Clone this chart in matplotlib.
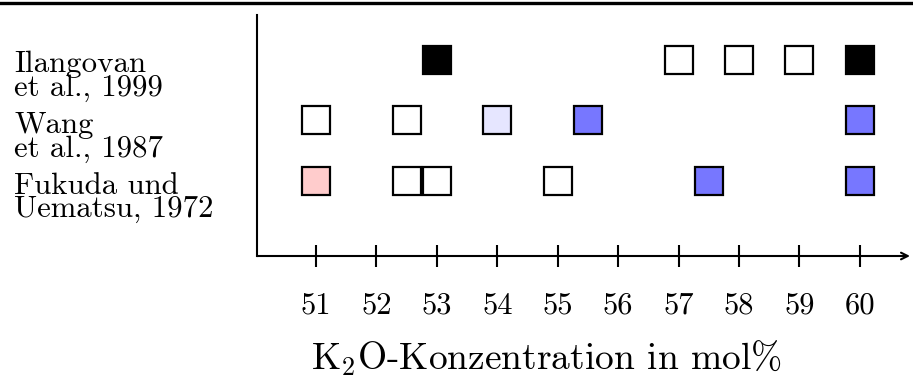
import matplotlib
matplotlib.use("Agg")
import matplotlib.pyplot as plt
from matplotlib.lines import Line2D
from matplotlib.transforms import blended_transform_factory

plt.rcParams['font.family'] = ['cmr10', 'DejaVu Serif']
plt.rcParams['mathtext.fontset'] = 'cm'
plt.rcParams['axes.unicode_minus'] = False

# ---- data ----
studies = ['Fukuda und\nUematsu, 1972', 'Wang\net al., 1987', 'Ilangovan\net al., 1999']
fukuda_x = [51, 52.5, 53, 55, 57.5, 60]
fukuda_c = ['#ffcccc', 'white', 'white', 'white', '#7777ff', '#7777ff']
wang_x = [51, 52.5, 54, 55.5, 60]
wang_c = ['white', 'white', '#e6e6ff', '#7777ff', '#7777ff']
ilangovan_x = [53, 57, 58, 59, 60]
ilangovan_c = ['black', 'white', 'white', 'white', 'black']
xticks = [51, 52, 53, 54, 55, 56, 57, 58, 59, 60]
xlabel = 'K$_2$O-Konzentration in mol%'

series = [(fukuda_x, fukuda_c), (wang_x, wang_c), (ilangovan_x, ilangovan_c)]

W, H = 913, 381
fig = plt.figure(figsize=(W / 100, H / 100), dpi=100)
ax = fig.add_axes([257 / W, 1 - 256 / H, 653 / W, 241 / H])

for row, (xs, cs) in enumerate(series, start=1):
    for x, c in zip(xs, cs):
        ax.plot([x], [row], marker='s', ms=19.5, mfc=c, mec='black', mew=1.6,
                linestyle='none', zorder=3)

ax.set_xlim(50.024, 60.83)
ax.set_ylim(-0.238, 3.734)

for s in ['top', 'right']:
    ax.spines[s].set_visible(False)
ax.spines['bottom'].set_visible(False)
ax.spines['left'].set_linewidth(1.5)

ax.annotate('', xy=(1, 0), xytext=(0, 0), xycoords='axes fraction',
            arrowprops=dict(arrowstyle='->', lw=1.5, color='black',
                            shrinkA=0, shrinkB=0, mutation_scale=12))

ax.set_xticks(xticks)
ax.set_xticklabels([str(t) for t in xticks])
ax.tick_params(axis='x', direction='inout', length=16.5, width=1.5, pad=18,
               labelsize=22)
ax.set_yticks([])

trans = blended_transform_factory(fig.transFigure, ax.transData)
for row, name in enumerate(studies, start=1):
    ax.annotate(name, xy=(14 / W, row), xycoords=trans,
                xytext=(0, -17), textcoords='offset pixels',
                ha='left', va='center', fontsize=22.2, linespacing=0.82)

ax.set_xlabel(xlabel, fontsize=27, va='center')
ax.xaxis.set_label_coords((546.5 - 257) / 653, -(358 - 256) / 241)

fig.add_artist(Line2D([0, 1], [1 - 3.3 / H, 1 - 3.3 / H], color='black',
                      lw=2.4, transform=fig.transFigure))

fig.savefig('out.png', dpi=100)
